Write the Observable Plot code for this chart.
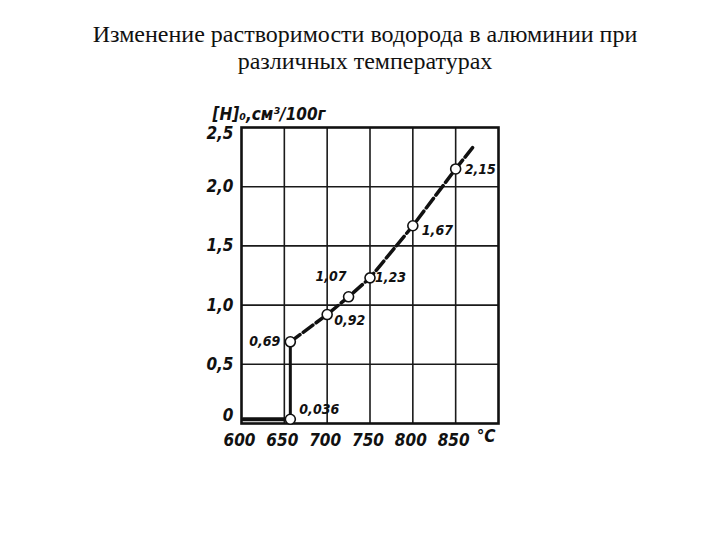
<!DOCTYPE html>
<html>
<head>
<meta charset="utf-8">
<script src="https://cdn.jsdelivr.net/npm/d3@7"></script>
<script src="https://cdn.jsdelivr.net/npm/@observablehq/plot@0.6"></script>
<style>
  html, body { margin: 0; padding: 0; background: #fff; }
  #title { width: 720px; height: 85px; box-sizing: border-box; padding-top: 21px; padding-left: 10px;
           text-align: center; font-family: "Liberation Serif", "Times New Roman", serif; font-size: 24px; line-height: 27px; color: #111; }
</style>
</head>
<body>
<div id="title">Изменение растворимости водорода в алюминии при<br>различных температурах</div>
<div id="chart"></div>
<script>
// Data
const temps  = [657, 657, 700, 725, 750, 800, 850];
const values = [0.036, 0.69, 0.92, 1.07, 1.23, 1.67, 2.15];
const labels = ["0,036", "0,69", "0,92", "1,07", "1,23", "1,67", "2,15"];
const solidStartT = 602;          // start of the solid-state segment
const curveEndT = 872;            // where the dashed curve stops
const curveEndV = 2.35;
const xTicks = [600, 650, 700, 750, 800, 850];
const yTicks = [0, 0.5, 1.0, 1.5, 2.0, 2.5];
const xUnit = "°C";
const yTitle = "[H]₀,см³/100г";

const points = temps.map((t, i) => ({t, v: values[i], label: labels[i], i}));
const solidSeg = [{t: solidStartT, v: values[0]}, {t: temps[0], v: values[0]}];
const jumpSeg = [{t: temps[0], v: values[0]}, {t: temps[1], v: values[1]}];
const dashSeg = points.slice(1).map(d => ({t: d.t, v: d.v})).concat([{t: curveEndT, v: curveEndV}]);

// label placement (styling, not data)
const place = [
  {anchor: "start", dx: 9, dy: -10},
  {anchor: "end", dx: -10, dy: 0},
  {anchor: "start", dx: 7, dy: 6},
  {anchor: "end", dx: -2, dy: -20},
  {anchor: "start", dx: 5, dy: 0},
  {anchor: "start", dx: 9, dy: 5},
  {anchor: "start", dx: 9, dy: 1}
];
const fmtY = d => d === 0 ? "0" : d.toFixed(1).replace(".", ",");
const font = "DejaVu Sans Condensed";

const textMarks = place.map((p, k) => Plot.text(points.filter(d => d.i === k), {
  x: "t", y: "v", text: "label", textAnchor: p.anchor, dx: p.dx, dy: p.dy,
  fontSize: 14, fontStyle: "italic", fontWeight: "bold", fill: "#111"
}));

const axisStyle = {tickSize: 0, fontStyle: "italic", fontWeight: "bold", label: null};

const chart = Plot.plot({
  width: 720,
  height: 455,
  marginLeft: 241,
  marginRight: 222,
  marginTop: 42,
  marginBottom: 117,
  style: {fontFamily: font, fontStyle: "italic", color: "#111", background: "#fff"},
  x: {domain: [600, 900]},
  y: {domain: [0, 2.5]},
  marks: [
    Plot.gridX([650, 700, 750, 800, 850], {stroke: "#1a1a1a", strokeOpacity: 1, strokeWidth: 1.6}),
    Plot.gridY([0.5, 1.0, 1.5, 2.0], {stroke: "#1a1a1a", strokeOpacity: 1, strokeWidth: 1.6}),
    Plot.frame({stroke: "#111", strokeWidth: 2.6}),
    Plot.axisX(xTicks, {...axisStyle, tickPadding: 10, fontSize: 17, dx: -2, tickFormat: d => String(d)}),
    Plot.text([xUnit], {frameAnchor: "bottom-right", dx: -3, dy: 18, fontSize: 17, fontStyle: "italic", fontWeight: "bold", textAnchor: "end"}),
    Plot.axisY(yTicks.filter(d => d > 0 && d < 2.5), {...axisStyle, tickPadding: 8, fontSize: 17, tickFormat: fmtY}),
    Plot.axisY([2.5], {...axisStyle, tickPadding: 8, fontSize: 17, tickFormat: fmtY, dy: 6}),
    Plot.axisY([0], {...axisStyle, tickPadding: 8, fontSize: 17, tickFormat: fmtY, dy: -8}),
    Plot.text([yTitle], {frameAnchor: "top-left", dx: -29, dy: -20, textAnchor: "start", fontSize: 17, fontStyle: "italic", fontWeight: "bold"}),
    Plot.line(solidSeg, {x: "t", y: "v", stroke: "#111", strokeWidth: 4}),
    Plot.line(jumpSeg, {x: "t", y: "v", stroke: "#111", strokeWidth: 3}),
    Plot.line(dashSeg, {x: "t", y: "v", stroke: "#111", strokeWidth: 3.5, strokeDasharray: "12,4"}),
    Plot.dot(points, {x: "t", y: "v", r: 5, fill: "#fff", stroke: "#111", strokeWidth: 1.6}),
    ...textMarks
  ]
});
document.getElementById("chart").appendChild(chart);
</script>
</body>
</html>
